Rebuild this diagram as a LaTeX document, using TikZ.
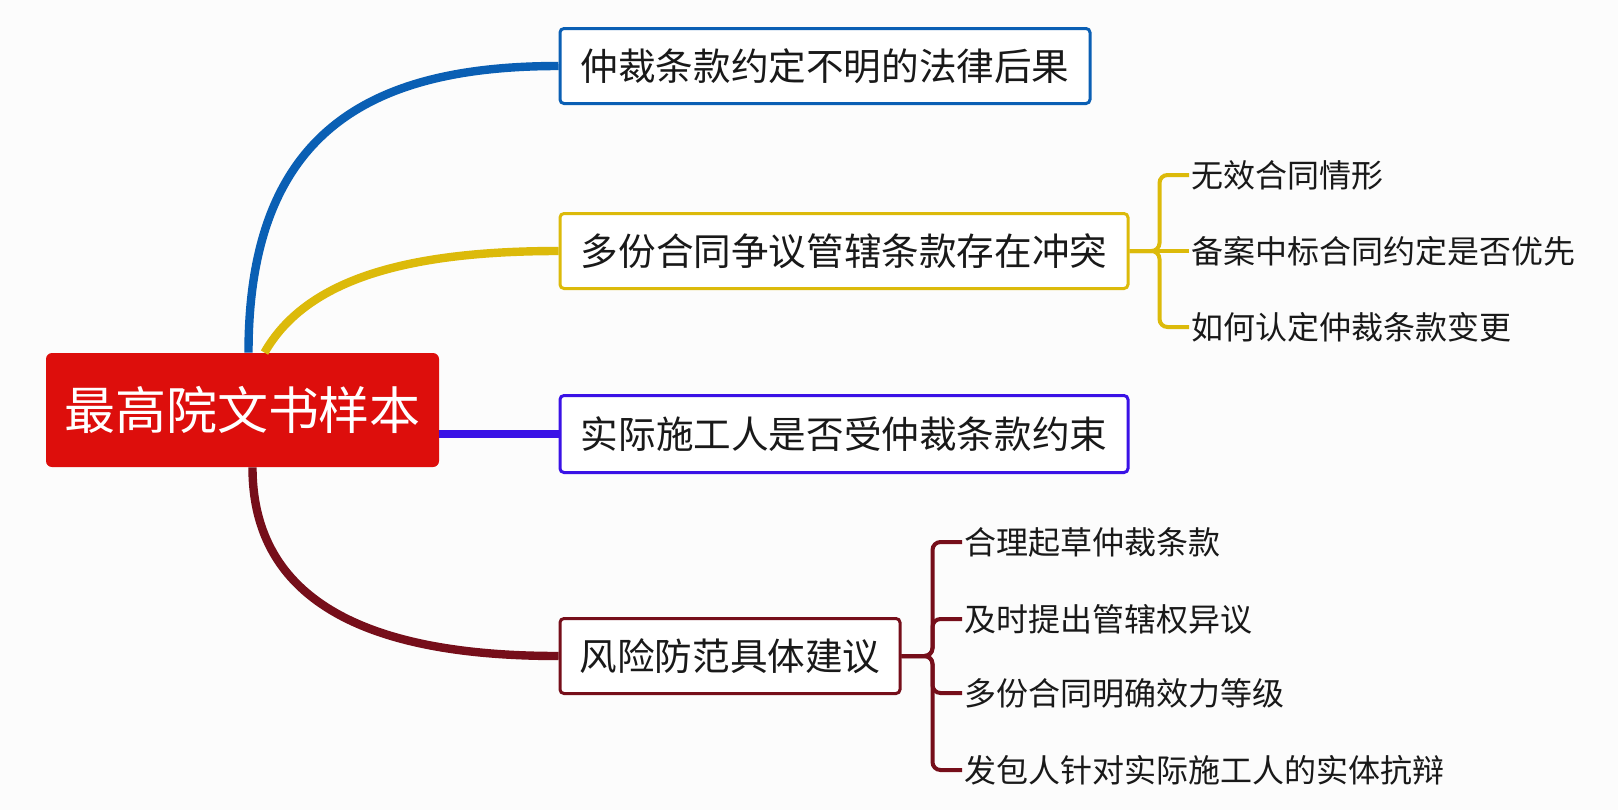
\documentclass[tikz,border=0pt]{standalone}
\usepackage{fontspec}
\setmainfont{Noto Sans CJK SC}
\usepackage{tikz}
\usepackage{xcolor}

\definecolor{rootred}{RGB}{221,14,12}
\definecolor{lawblue}{RGB}{10,95,180}
\definecolor{lawyellow}{RGB}{220,186,10}
\definecolor{lawindigo}{RGB}{58,18,230}
\definecolor{lawmaroon}{RGB}{118,14,26}
\definecolor{paper}{RGB}{252,252,252}

\tikzset{
  rootbox/.style={fill=rootred, text=white, rounded corners=3pt,
    minimum width=196.5pt, minimum height=57pt,
    font=\fontsize{25.5}{30}\selectfont},
  topicbox/.style={draw=#1, line width=1.5pt, fill=white, rounded corners=2pt,
    minimum height=37.5pt, text=black!90,
    font=\fontsize{18.8}{22}\selectfont},
  leaf/.style={anchor=west, inner sep=1pt, text=black!90,
    font=\fontsize{16}{19}\selectfont},
  branch/.style={draw=#1, line width=4.2pt},
  bracket/.style={draw=#1, line width=2pt, rounded corners=4pt},
}

\begin{document}
\begin{tikzpicture}[x=0.5pt,y=-0.5pt]
\fill[paper] (0,0) rectangle (1618,810);
\useasboundingbox (0,0) rectangle (1618,810);

\node[rootbox] (root) at (242.5,410) {最高院文书样本};

\node[topicbox=lawblue, minimum width=265pt] (houguo) at (825,66) {仲裁条款约定不明的法律后果};
\draw[branch=lawblue] ([xshift=3pt]root.north) .. controls +(0,-220) and +(-190,0) .. (houguo.west);

\node[topicbox=lawyellow, minimum width=284pt] (chongtu) at (844,251) {多份合同争议管辖条款存在冲突};
\draw[branch=lawyellow] ([xshift=11pt]root.north) .. controls +(40,-70) and +(-160,0) .. (chongtu.west);

\node[topicbox=lawindigo, minimum width=284pt, minimum height=38.5pt] (yueshu) at (844,434) {实际施工人是否受仲裁条款约束};
\draw[branch=lawindigo] (yueshu.west -| root.east) -- (yueshu.west);

\node[topicbox=lawmaroon, minimum width=170pt] (jianyi) at (730,656) {风险防范具体建议};
\draw[branch=lawmaroon] ([xshift=5pt]root.south) .. controls +(0,160) and +(-140,0) .. (jianyi.west);

% yellow leaves
\node[leaf] (wuxiao) at (1189,175) {无效合同情形};
\node[leaf] (beian) at (1189,251) {备案中标合同约定是否优先};
\node[leaf] (biangeng) at (1189,327) {如何认定仲裁条款变更};
\draw[bracket=lawyellow] (chongtu.east) -- ++(30,0) |- (wuxiao.west);
\draw[bracket=lawyellow] (chongtu.east) -- (beian.west);
\draw[bracket=lawyellow] (chongtu.east) -- ++(30,0) |- (biangeng.west);

% maroon leaves
\node[leaf] (qicao) at (962,542) {合理起草仲裁条款};
\node[leaf] (yiyi) at (962,619) {及时提出管辖权异议};
\node[leaf] (dengji) at (962,693) {多份合同明确效力等级};
\node[leaf] (kangbian) at (962,770) {发包人针对实际施工人的实体抗辩};
\draw[bracket=lawmaroon] (jianyi.east) -- ++(31,0) |- (qicao.west);
\draw[bracket=lawmaroon] (jianyi.east) -- ++(31,0) |- (yiyi.west);
\draw[bracket=lawmaroon] (jianyi.east) -- ++(31,0) |- (dengji.west);
\draw[bracket=lawmaroon] (jianyi.east) -- ++(31,0) |- (kangbian.west);
\end{tikzpicture}
\end{document}
